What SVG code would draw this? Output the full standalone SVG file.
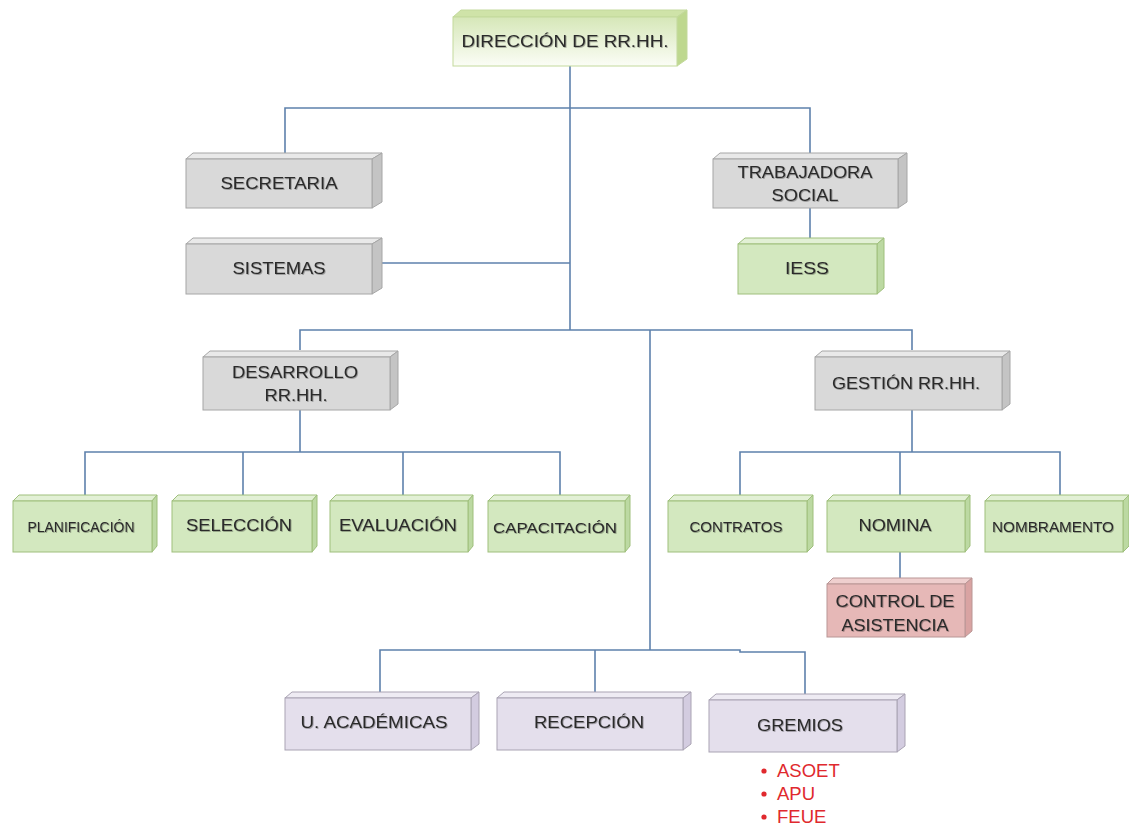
<svg xmlns="http://www.w3.org/2000/svg" width="1129" height="825" viewBox="0 0 1129 825">
<defs>
<linearGradient id="gdir" x1="0" y1="0" x2="0" y2="1">
<stop offset="0" stop-color="#d6e7b8"/>
<stop offset="1" stop-color="#fbfdf6"/>
</linearGradient>
<filter id="ts" x="-5%" y="-20%" width="110%" height="140%">
<feDropShadow dx="0.8" dy="0.8" stdDeviation="0.6" flood-color="#000" flood-opacity="0.35"/>
</filter>
</defs>
<style>
.conn{fill:none;stroke:#5e81ac;stroke-width:1.6}
.g .f{fill:#d9d9d9;stroke:#a6a6a6;stroke-width:1}
.g .t{fill:#e9e9e9;stroke:#a6a6a6;stroke-width:1}
.g .s{fill:#c4c4c4;stroke:#a6a6a6;stroke-width:1}
.gr .f{fill:#d3e8bf;stroke:#9fbf7c;stroke-width:1}
.gr .t{fill:#e2f0d5;stroke:#9fbf7c;stroke-width:1}
.gr .s{fill:#bcd9a2;stroke:#9fbf7c;stroke-width:1}
.dir .f{fill:url(#gdir);stroke:#c3d99c;stroke-width:1}
.dir .t{fill:#cfe3a8;stroke:#c3d99c;stroke-width:1}
.dir .s{fill:#bed88f;stroke:#c3d99c;stroke-width:1}
.pk .f{fill:#e6b8b7;stroke:#b99695;stroke-width:1}
.pk .t{fill:#efcfce;stroke:#b99695;stroke-width:1}
.pk .s{fill:#d9a3a2;stroke:#b99695;stroke-width:1}
.lv .f{fill:#e4dfec;stroke:#a9a3b3;stroke-width:1}
.lv .t{fill:#eeebf3;stroke:#a9a3b3;stroke-width:1}
.lv .s{fill:#d3cce0;stroke:#a9a3b3;stroke-width:1}
text{font-family:"Liberation Sans",Arial,sans-serif;fill:#2b2b2b;text-anchor:middle;dominant-baseline:central}
.lb{font-size:17px;filter:url(#ts)}
.sm{font-size:14px;filter:url(#ts)}
.red{font-size:18.5px;fill:#e0292e;text-anchor:start}
</style>

<g id="connectors">
<path class="conn" d="M570 66 V330"/>
<path class="conn" d="M285 153 V108 H810 V153"/>
<path class="conn" d="M380 263 H570"/>
<path class="conn" d="M810 208 V238"/>
<path class="conn" d="M300 350 V330 H912 V350"/>
<path class="conn" d="M650 330 V650"/>
<path class="conn" d="M380 692 V650 H740 V652 H805 V694"/>
<path class="conn" d="M595 650 V692"/>
<path class="conn" d="M300 410 V452"/>
<path class="conn" d="M85 495 V452 H560 V495"/>
<path class="conn" d="M243 452 V495"/>
<path class="conn" d="M403 452 V495"/>
<path class="conn" d="M912 410 V452"/>
<path class="conn" d="M740 495 V452 H1060 V495"/>
<path class="conn" d="M900 452 V495"/>
<path class="conn" d="M900 552 V578"/>
</g>

<g id="n-direccion" class="dir">
<polygon class="t" points="453,17 461,10 687,10 677,17"/>
<polygon class="s" points="677,17 687,10 687,59 677,66"/>
<rect class="f" x="453" y="17" width="224" height="49"/>
<text class="lb" x="565" y="41" textLength="207" lengthAdjust="spacingAndGlyphs">DIRECCIÓN DE RR.HH.</text>
</g>

<g id="n-secretaria" class="g">
<polygon class="t" points="186,159 193,153 382,153 372,159"/>
<polygon class="s" points="372,159 382,153 382,202 372,208"/>
<rect class="f" x="186" y="159" width="186" height="49"/>
<text class="lb" x="279" y="183" textLength="117" lengthAdjust="spacingAndGlyphs">SECRETARIA</text>
</g>

<g id="n-sistemas" class="g">
<polygon class="t" points="186,244 193,238 382,238 372,244"/>
<polygon class="s" points="372,244 382,238 382,288 372,294"/>
<rect class="f" x="186" y="244" width="186" height="50"/>
<text class="lb" x="279" y="268" textLength="93" lengthAdjust="spacingAndGlyphs">SISTEMAS</text>
</g>

<g id="n-trabajadora" class="g">
<polygon class="t" points="713,159 720,153 907,153 898,159"/>
<polygon class="s" points="898,159 907,153 907,202 898,208"/>
<rect class="f" x="713" y="159" width="185" height="49"/>
<text class="lb" x="805" y="172" textLength="135" lengthAdjust="spacingAndGlyphs">TRABAJADORA</text>
<text class="lb" x="805" y="195" textLength="67" lengthAdjust="spacingAndGlyphs">SOCIAL</text>
</g>

<g id="n-iess" class="gr">
<polygon class="t" points="738,244 745,238 884,238 877,244"/>
<polygon class="s" points="877,244 884,238 884,288 877,294"/>
<rect class="f" x="738" y="244" width="139" height="50"/>
<text class="lb" x="807" y="268" textLength="44" lengthAdjust="spacingAndGlyphs">IESS</text>
</g>

<g id="n-desarrollo" class="g">
<polygon class="t" points="203,357 210,351 398,351 390,357"/>
<polygon class="s" points="390,357 398,351 398,404 390,410"/>
<rect class="f" x="203" y="357" width="187" height="53"/>
<text class="lb" x="295" y="372" textLength="126" lengthAdjust="spacingAndGlyphs">DESARROLLO</text>
<text class="lb" x="296" y="395" textLength="63" lengthAdjust="spacingAndGlyphs">RR.HH.</text>
</g>

<g id="n-gestion" class="g">
<polygon class="t" points="815,357 822,351 1010,351 1002,357"/>
<polygon class="s" points="1002,357 1010,351 1010,404 1002,410"/>
<rect class="f" x="815" y="357" width="187" height="53"/>
<text class="lb" x="906" y="383" textLength="148" lengthAdjust="spacingAndGlyphs">GESTIÓN RR.HH.</text>
</g>

<g id="n-planificacion" class="gr">
<polygon class="t" points="13,501 19,495 157,495 152,501"/>
<polygon class="s" points="152,501 157,495 157,546 152,552"/>
<rect class="f" x="13" y="501" width="139" height="51"/>
<text class="sm" x="81" y="527" textLength="107" lengthAdjust="spacingAndGlyphs">PLANIFICACIÓN</text>
</g>

<g id="n-seleccion" class="gr">
<polygon class="t" points="172,501 178,495 317,495 312,501"/>
<polygon class="s" points="312,501 317,495 317,546 312,552"/>
<rect class="f" x="172" y="501" width="140" height="51"/>
<text class="lb" x="239" y="525" textLength="106" lengthAdjust="spacingAndGlyphs">SELECCIÓN</text>
</g>

<g id="n-evaluacion" class="gr">
<polygon class="t" points="330,501 336,495 473,495 468,501"/>
<polygon class="s" points="468,501 473,495 473,546 468,552"/>
<rect class="f" x="330" y="501" width="138" height="51"/>
<text class="lb" x="398" y="525" textLength="118" lengthAdjust="spacingAndGlyphs">EVALUACIÓN</text>
</g>

<g id="n-capacitacion" class="gr">
<polygon class="t" points="488,501 494,495 630,495 625,501"/>
<polygon class="s" points="625,501 630,495 630,546 625,552"/>
<rect class="f" x="488" y="501" width="137" height="51"/>
<text class="lb" x="555" y="527" textLength="124" lengthAdjust="spacingAndGlyphs" style="font-size:15px">CAPACITACIÓN</text>
</g>

<g id="n-contratos" class="gr">
<polygon class="t" points="668,501 674,495 813,495 807,501"/>
<polygon class="s" points="807,501 813,495 813,546 807,552"/>
<rect class="f" x="668" y="501" width="139" height="51"/>
<text class="sm" x="736" y="527" textLength="93" lengthAdjust="spacingAndGlyphs">CONTRATOS</text>
</g>

<g id="n-nomina" class="gr">
<polygon class="t" points="827,501 833,495 970,495 965,501"/>
<polygon class="s" points="965,501 970,495 970,546 965,552"/>
<rect class="f" x="827" y="501" width="138" height="51"/>
<text class="lb" x="895" y="525" textLength="73" lengthAdjust="spacingAndGlyphs">NOMINA</text>
</g>

<g id="n-nombramento" class="gr">
<polygon class="t" points="985,501 991,495 1129,495 1123,501"/>
<polygon class="s" points="1123,501 1129,495 1129,546 1123,552"/>
<rect class="f" x="985" y="501" width="138" height="51"/>
<text class="sm" x="1053" y="527" textLength="122" lengthAdjust="spacingAndGlyphs">NOMBRAMENTO</text>
</g>

<g id="n-control" class="pk">
<polygon class="t" points="827,584 833,578 972,578 965,584"/>
<polygon class="s" points="965,584 972,578 972,631 965,637"/>
<rect class="f" x="827" y="584" width="138" height="53"/>
<text class="lb" x="895" y="601" textLength="119" lengthAdjust="spacingAndGlyphs">CONTROL DE</text>
<text class="lb" x="895" y="625" textLength="107" lengthAdjust="spacingAndGlyphs">ASISTENCIA</text>
</g>

<g id="n-academicas" class="lv">
<polygon class="t" points="285,698 292,692 479,692 471,698"/>
<polygon class="s" points="471,698 479,692 479,744 471,750"/>
<rect class="f" x="285" y="698" width="186" height="52"/>
<text class="lb" x="374" y="722" textLength="147" lengthAdjust="spacingAndGlyphs">U. ACADÉMICAS</text>
</g>

<g id="n-recepcion" class="lv">
<polygon class="t" points="497,698 504,692 691,692 683,698"/>
<polygon class="s" points="683,698 691,692 691,744 683,750"/>
<rect class="f" x="497" y="698" width="186" height="52"/>
<text class="lb" x="589" y="722" textLength="110" lengthAdjust="spacingAndGlyphs">RECEPCIÓN</text>
</g>

<g id="n-gremios" class="lv">
<polygon class="t" points="709,700 716,694 905,694 897,700"/>
<polygon class="s" points="897,700 905,694 905,746 897,752"/>
<rect class="f" x="709" y="700" width="188" height="52"/>
<text class="lb" x="800" y="725" textLength="86" lengthAdjust="spacingAndGlyphs">GREMIOS</text>
</g>

<g id="gremios-list">
<circle cx="764" cy="771" r="2.6" fill="#e0292e"/>
<circle cx="764" cy="794" r="2.6" fill="#e0292e"/>
<circle cx="764" cy="817" r="2.6" fill="#e0292e"/>
<text class="red" x="777" y="770">ASOET</text>
<text class="red" x="777" y="793">APU</text>
<text class="red" x="777" y="816">FEUE</text>
</g>
</svg>
